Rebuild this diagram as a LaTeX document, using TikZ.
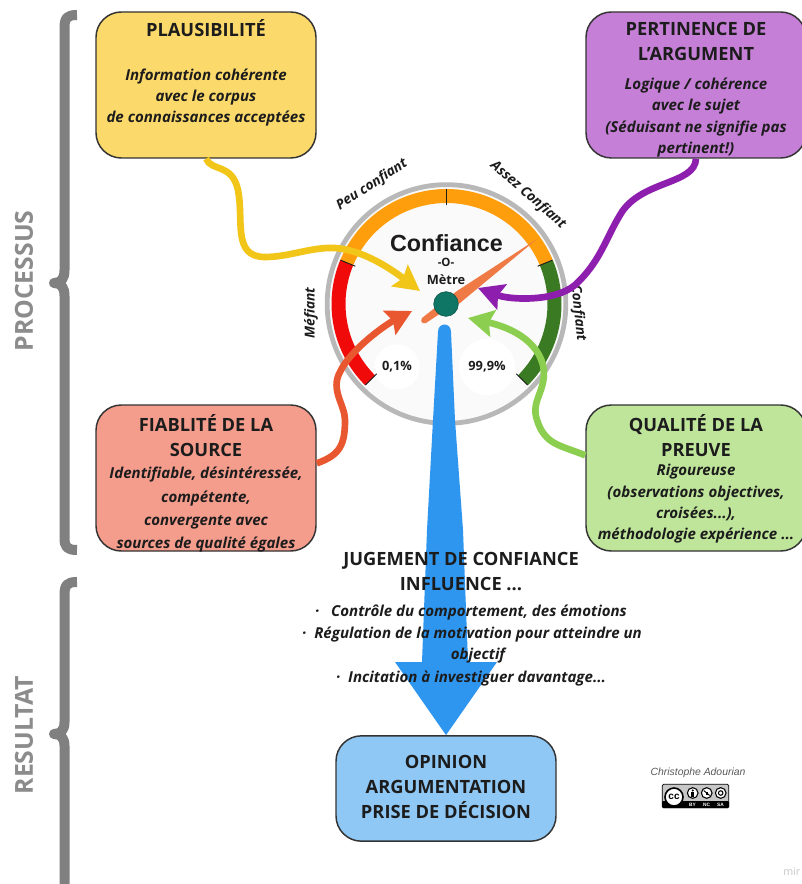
\documentclass[tikz,border=0pt]{standalone}
\usepackage{fontspec}
\setmainfont{Open Sans}
\newfontfamily\liberationsans{Liberation Sans}
\usetikzlibrary{arrows.meta}
\definecolor{ink}{HTML}{1C1C1C}
\definecolor{edgecol}{HTML}{333333}
\definecolor{bracegray}{HTML}{808080}
\definecolor{labelgray}{HTML}{8C8C8C}
\definecolor{yellowbox}{HTML}{FBD96B}
\definecolor{purplebox}{HTML}{C57FD6}
\definecolor{salmonbox}{HTML}{F59D8D}
\definecolor{greenbox}{HTML}{BFE59B}
\definecolor{bluebox}{HTML}{90C8F5}
\definecolor{yellowarrow}{HTML}{F2C618}
\definecolor{purplearrow}{HTML}{8E1FAE}
\definecolor{redarrow}{HTML}{E8572F}
\definecolor{greenarrow}{HTML}{8CCF50}
\definecolor{bigblue}{HTML}{2F96F0}
\definecolor{needlecol}{HTML}{F07A45}
\definecolor{hubcol}{HTML}{0F7565}
\definecolor{bandred}{HTML}{F00A0A}
\definecolor{bandorange}{HTML}{FF9E0D}
\definecolor{bandgreen}{HTML}{3A7A22}
\tikzset{
  x=0.75pt,y=-0.75pt,
  boxstyle/.style={draw=edgecol,line width=1.1pt,rounded corners=19pt,minimum width=165pt,inner sep=0pt},
  headtext/.style={font=\fontsize{13.7}{18.75}\selectfont\bfseries,align=center,text=ink,inner sep=0pt},
  bodytext/.style={font=\fontsize{11.3}{16}\selectfont\bfseries\itshape,align=center,text=ink,inner sep=0pt},
  gaugetext/.style={font=\fontsize{10.3}{11}\selectfont\bfseries\itshape,text=ink,inner sep=0pt},
  sidelabel/.style={font=\fontsize{18.6}{20}\selectfont\bfseries,text=labelgray,rotate=90,inner sep=0pt},
  bracestyle/.style={draw=bracegray,line width=7.5pt,line join=round},
  connector/.style={line width=5pt,-{Stealth[length=19pt,width=20pt,inset=3pt]}},
  bandstyle/.style={line width=10.5pt},
  ticktyle/.style={draw=ink,line width=0.7pt},
  smallcc/.style={draw=black,fill=white,line width=0.8pt,circle,minimum size=8pt,inner sep=0pt},
  cclabel/.style={font=\liberationsans\fontsize{3.6}{4}\selectfont\bfseries,text=white,inner sep=0pt},
}
\begin{document}
\begin{tikzpicture}
\useasboundingbox (0,0) rectangle (802,884);
\fill[white] (0,0) rectangle (802,884);

% braces and side labels
\draw[bracestyle] (77,15) .. controls (67,15) and (64.5,18) .. (64.5,28) -- (64.5,270) .. controls (64.5,279) and (61,283) .. (54,283) .. controls (61,283) and (64.5,287) .. (64.5,296) -- (64.5,538) .. controls (64.5,547) and (67,550) .. (77,550);
\draw[bracestyle] (77,582) .. controls (67,582) and (64.5,585) .. (64.5,595) -- (64.5,722) .. controls (64.5,730) and (61,734) .. (54,734) .. controls (61,734) and (64.5,738) .. (64.5,746) -- (64.5,890);
\node[sidelabel] (processus) at (24,281) {PROCESSUS};
\node[sidelabel] (resultat) at (24,735) {RESULTAT};

% boxes
\node[boxstyle,fill=yellowbox,minimum height=109.5pt] (plaus) at (206,85) {};
\node[boxstyle,fill=purplebox,minimum height=109.5pt] (pert) at (696,85) {};
\node[boxstyle,fill=salmonbox,minimum height=109.5pt] (fiab) at (206,478) {};
\node[boxstyle,fill=greenbox,minimum height=109.5pt] (qual) at (696,478) {};
\node[boxstyle,fill=bluebox,minimum height=79pt] (opinion) at (446,788.5) {};

% gauge
\coordinate (gc) at (446.5,304);
\fill[black!2] (gc) circle[radius=90.75pt];
\draw[black!28,line width=3.6pt] (gc) circle[radius=89.5pt];
\node[circle,fill=white,minimum size=34pt,inner sep=0pt] (lowdisc) at (397,367) {};
\node[circle,fill=white,minimum size=42pt,inner sep=0pt] (highdisc) at (487,367) {};
\draw[bandstyle,draw=bandred] ([shift={(225:81pt)}]gc) arc[start angle=225,end angle=157.5,radius=81pt];
\draw[bandstyle,draw=bandorange] ([shift={(157.5:81pt)}]gc) arc[start angle=157.5,end angle=22.5,radius=81pt];
\draw[bandstyle,draw=bandgreen] ([shift={(22.5:81pt)}]gc) arc[start angle=22.5,end angle=-45,radius=81pt];
\foreach \a in {225,157.5,90,22.5,-45}{
  \draw[ticktyle] ([shift={(\a:74pt)}]gc) -- ([shift={(\a:86pt)}]gc);
}
\node[gaugetext,rotate=33] (peu) at (372,185) {Peu confiant};
\node[gaugetext,rotate=-41] (assez) at (528,195) {Assez Confiant};
\node[gaugetext,rotate=90] (mefiant) at (311,313) {Méfiant};
\node[gaugetext,rotate=-84] (confiant) at (578,313) {Confiant};
\node[font=\liberationsans\fontsize{17.5}{20}\selectfont\bfseries,text=ink,inner sep=0pt] (conf) at (446.5,243) {Confiance};
\node[font=\fontsize{8.6}{10}\selectfont\bfseries,text=ink,inner sep=0pt] (o) at (446,262) {-O-};
\node[font=\fontsize{9.6}{10}\selectfont\bfseries,text=ink,inner sep=0pt] (metre) at (446,280) {Mètre};
\node[font=\fontsize{9.6}{10}\selectfont\bfseries,text=ink,inner sep=0pt] (low) at (397,367) {0,1\%};
\node[font=\fontsize{9.6}{10}\selectfont\bfseries,text=ink,inner sep=0pt] (high) at (487,367) {99,9\%};

% big blue arrow
\fill[bigblue,line join=round] (438,332) .. controls (438,322) and (451,322) .. (451,332) -- (455,420) -- (463,530) -- (468,662) -- (497,662) -- (opinion.north) -- (395,662) -- (422,662) -- (427,530) -- (433,420) -- cycle;

% needle and hub
\fill[needlecol] (537,239) -- (457,291) -- (436,307) -- (422,318) .. controls (420,322) and (422,324) .. (426,323) -- (438,315) -- (460,303) -- cycle;
\node[circle,fill=hubcol,draw=hubcol!70!black,line width=0.4pt,minimum size=18.5pt,inner sep=0pt] (hub) at (446,304) {};

% connectors
\coordinate (ytip) at (420,291);
\coordinate (ptip) at (478,288);
\coordinate (rtip) at (412,311);
\coordinate (gtip) at (468,318);
\draw[connector,draw=yellowarrow] (plaus.south) .. controls (212,172) and (232,163) .. (238,190) .. controls (244,220) and (232,257) .. (265,257) .. controls (290,257) and (310,247) .. (335,248) .. controls (365,250) and (395,272) .. (ytip);
\draw[connector,draw=purplearrow] (pert.south) .. controls (695,185) and (640,180) .. (620,215) .. controls (605,240) and (600,262) .. (575,285) .. controls (555,302) and (510,300) .. (ptip);
\draw[connector,draw=redarrow] ([yshift=11pt]fiab.east) .. controls (340,455) and (345,445) .. (345,420) .. controls (345,405) and (330,390) .. (340,372) .. controls (350,350) and (385,325) .. (rtip);
\draw[connector,draw=greenarrow] ([yshift=17pt]qual.west) .. controls (560,445) and (545,445) .. (537,420) .. controls (530,400) and (548,390) .. (543,365) .. controls (535,335) and (500,325) .. (gtip);

% box texts
\node[headtext] (t1) at (206,28.5) {PLAUSIBILITÉ};
\node[bodytext] (b1) at (206,97.5) {Information cohérente\\avec le corpus\\de connaissances acceptées};
\node[headtext] (t2) at (696,41.5) {PERTINENCE DE\\L'ARGUMENT};
\node[bodytext] (b2) at (696,117.5) {Logique / cohérence\\avec le sujet\\(Séduisant ne signifie pas\\pertinent!)};
\node[headtext] (t3) at (206,435.5) {FIABLITÉ DE LA\\SOURCE};
\node[bodytext,font=\fontsize{11.3}{17.5}\selectfont\bfseries\itshape] (b3) at (206,510) {Identifiable, désintéressée,\\compétente,\\convergente avec\\sources de qualité égales};
\node[headtext] (t4) at (696,435.5) {QUALITÉ DE LA\\PREUVE};
\node[bodytext] (b4) at (696,504) {Rigoureuse\\(observations objectives,\\croisées...),\\méthodologie expérience ...};
\node[headtext] (t5) at (461,571) {JUGEMENT DE CONFIANCE\\INFLUENCE ...};
\node[bodytext] (b5a) at (471,612.5) {·\ \ \ Contrôle du comportement, des émotions};
\node[bodytext] (b5b) at (472,634.5) {·\ \ Régulation de la motivation pour atteindre un};
\node[bodytext] (b5c) at (478,655.5) {objectif};
\node[bodytext] (b5d) at (471,678.5) {·\ \ Incitation à investiguer davantage...};
\node[headtext] (t6) at (446,787) {OPINION\\ARGUMENTATION\\PRISE DE DÉCISION};

% credit
\node[font=\liberationsans\itshape\fontsize{7.8}{9}\selectfont,text=black!65,inner sep=0pt] (author) at (698,773) {Christophe Adourian};
\node[draw=black,fill=black!22,rounded corners=1pt,line width=0.6pt,minimum width=50pt,minimum height=17.5pt,inner sep=0pt] (ccbadge) at (695.5,796) {};
\fill[black,rounded corners=0.8pt] (662,801) rectangle (729,808);
\node[circle,draw=black,fill=white,line width=1.2pt,minimum size=13.5pt,inner sep=0pt,font=\liberationsans\fontsize{7.5}{8}\selectfont\bfseries] (cc) at (674,797) {cc};
\node[smallcc] (by) at (692.7,793) {};
\node[smallcc] (nc) at (706.7,793) {};
\node[smallcc] (sa) at (720.7,793) {};
\fill[black] (692.7,790.5) circle[radius=0.9pt];
\fill[black] (691.2,792.2) rectangle (694.2,796.5);
\draw[black,line width=0.7pt] (703.7,790.5) -- (709.7,795.5);
\fill[black] (705.7,792) rectangle (707.7,794.5);
\draw[black,line width=0.8pt] (720.7,793) circle[radius=1.7pt];
\node[cclabel] (bylab) at (692.5,804.8) {BY};
\node[cclabel] (nclab) at (706.5,804.8) {NC};
\node[cclabel] (salab) at (720.5,804.8) {SA};
\node[font=\fontsize{8}{9}\selectfont,text=black!22,anchor=west,inner sep=0pt] (mir) at (783,872) {mir};
\end{tikzpicture}
\end{document}
